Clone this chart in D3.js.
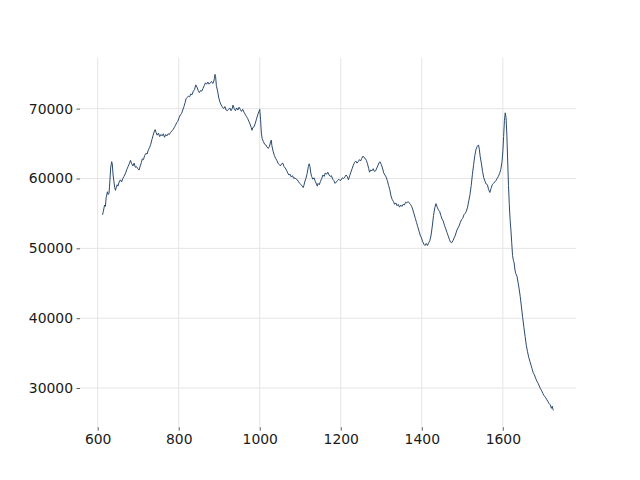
<!DOCTYPE html>
<html>
<head>
<meta charset="utf-8">
<script src="https://cdn.jsdelivr.net/npm/d3@7"></script>
<style>
  html, body { margin: 0; padding: 0; background: #ffffff; }
  svg { display: block; }
  text { font-family: "DejaVu Sans", sans-serif; }
</style>
</head>
<body>
<svg id="chart" width="640" height="480"></svg>
<script>
const wavenumbers = [612,614,617,619,621,624,626,628,630,632,634.5,636,638,640,642,644,646,648,650,653,656,659,662,665,669,672,675,678,681,684,687,690,693,696,699,702,705,708,710,713,716,719,722,725,728,731,734,737,740,742,744,747,750,753,756,759,762,765,768,771,774,777,780,783,786,789,792,795,798,801,804,807,810,813,816,818,821,824,827,830,833,836,839,842,845,848,851,854,857,860,863,866,869,872,875,878,881,884,886,888,889.5,891,893,896,899,902,905,908,911,914,917,920,923,926,929,932,934,937,940,943,946,949,952,955,958,961,964,967,970,973,976,979,981,983,986,989,992,995,998,1000,1002,1004,1006,1009,1012,1015,1018,1021,1024,1027,1028.5,1030,1033,1036,1039,1042,1045,1048,1051,1054,1057,1060,1063,1066,1069,1072,1075,1078,1081,1084,1087,1090,1093,1096,1099,1102,1105,1107,1109,1111,1114,1117,1120,1122,1124,1126,1128,1131,1134,1137,1140,1142,1144,1147,1150,1153,1156,1159,1162,1165,1168,1171,1174,1177,1180,1183,1186,1189,1192,1195,1198,1201,1204,1207,1210,1213,1216,1219,1222,1225,1228,1231,1234,1237,1240,1243,1246,1249,1252,1255,1257,1260,1263,1266,1269,1271,1274,1277,1280,1283,1286,1289,1292,1295,1297,1300,1303,1306,1309,1312,1315,1318,1321,1324,1327,1330,1333,1336,1339,1342,1345,1348,1351,1354,1357,1360,1363,1366,1369,1372,1375,1378,1381,1384,1387,1390,1393,1396,1399,1402,1405,1408,1411,1414,1417,1420,1423,1426,1429,1432,1435,1438,1441,1444,1447,1450,1453,1456,1459,1462,1465,1468,1471,1474,1477,1480,1483,1486,1489,1492,1495,1498,1501,1504,1507,1510,1513,1516,1519,1522,1525,1528,1531,1534,1537,1540,1542,1544,1547,1550,1553,1556,1559,1562,1565,1568,1571,1574,1577,1580,1583,1586,1589,1592,1595,1598,1600,1602,1604,1606,1608,1610,1612,1614,1616,1618,1620,1622,1624,1626,1628,1630,1632,1635,1638,1640,1643,1646,1649,1652,1655,1658,1661,1664,1667,1670,1672,1675,1678,1681,1684,1687,1690,1693,1696,1699,1702,1705,1708,1711,1714,1717,1720,1722,1724,1725];

const intensities = [54800,55300,56200,56000,57300,58100,57700,57900,59500,61500,62400,62100,60500,59600,58700,58300,58800,59100,58900,59500,59800,59500,60000,60300,60800,61300,61700,62100,62600,62100,61800,62200,61600,61700,61400,61200,61800,62300,62800,62700,63300,63600,63500,64100,64400,64900,65600,66200,66800,67000,66600,66200,66500,66000,66300,66100,66400,65900,66300,66100,66400,66300,66600,66800,67000,67300,67600,68000,68200,68700,69100,69300,69800,70300,70900,71400,71600,71800,71700,72100,72000,72500,72700,73400,73100,72600,72300,72600,72500,72900,73300,73700,73500,73800,73500,73700,73900,73600,73800,74300,74900,74600,73300,72500,71500,70900,70500,70200,70000,70300,69800,69700,69900,70100,69700,70000,70500,70000,69700,70100,69800,70200,69900,69600,69900,69500,69200,68900,68600,68200,67800,67300,66900,67300,67400,67900,68500,69100,69600,69900,68500,66500,65700,65300,64900,64800,64500,64300,64600,65300,65500,64700,63900,63300,62900,62600,62200,62000,61800,62100,62200,61700,61500,61200,60800,60500,60600,60200,60400,60000,60100,59900,59800,59500,59300,59100,58900,58700,59000,59500,60000,60700,61700,62100,61700,60800,60300,59900,60100,59600,59200,58900,59300,59100,59600,60000,60500,60300,60800,60600,60900,60500,60300,60400,59900,59700,59300,59500,59700,59900,59700,59800,60100,60000,60200,60500,60300,59800,60400,60900,61400,61900,62300,62500,62200,62400,62700,62500,62900,63200,63000,62900,62600,62100,61400,60900,61200,61100,61400,61000,61100,61500,61900,62300,62400,62000,61500,60800,60500,60200,59700,59000,58400,57500,57000,56700,56300,56500,56100,56300,55900,56200,56000,56300,56200,56600,56500,56700,56500,56300,56000,55500,54900,54300,53700,53100,52500,51900,51500,51000,50600,50400,50700,50400,50800,51100,51900,53200,54700,55800,56400,55900,55500,55300,54700,54200,53900,53300,52800,52300,51800,51300,50900,50800,51100,51500,51900,52500,52900,53200,53700,54100,54300,54800,55000,55300,55900,56800,57700,59000,60600,62000,63300,64200,64600,64800,64200,63200,62200,61000,60100,59600,59200,59100,58400,58000,58600,59100,59300,59500,59700,60000,60300,60700,61300,62400,63800,66000,68300,69400,68700,66200,62500,59000,56300,54100,52600,50800,49000,48300,47900,46900,46400,46000,45000,44300,43100,41600,40100,38700,37400,36100,35200,34400,33800,33200,32800,32200,31900,31400,31000,30700,30300,29900,29600,29200,28900,28700,28400,28100,27800,27600,27100,27400,26900,26800];

const xTickValues = [600, 800, 1000, 1200, 1400, 1600];
const yTickValues = [30000, 40000, 50000, 60000, 70000];

const W = 640, H = 480;
const margin = { left: 80, right: 64, top: 57.6, bottom: 52.8 };
const innerW = W - margin.left - margin.right;
const innerH = H - margin.top - margin.bottom;

const data = wavenumbers.map((w, i) => ({ x: w, y: intensities[i] }));

const xExt = d3.extent(wavenumbers);
const yExt = d3.extent(intensities);
const xPad = (xExt[1] - xExt[0]) * 0.05;
const yPad = (yExt[1] - yExt[0]) * 0.05;

const x = d3.scaleLinear().domain([xExt[0] - xPad, xExt[1] + xPad]).range([0, innerW]);
const y = d3.scaleLinear().domain([yExt[0] - yPad, yExt[1] + yPad]).range([innerH, 0]);

const svg = d3.select("#chart");
const g = svg.append("g").attr("transform", `translate(${margin.left},${margin.top})`);

// grid
g.append("g").selectAll("line").data(xTickValues).join("line")
  .attr("x1", d => x(d)).attr("x2", d => x(d))
  .attr("y1", 0).attr("y2", innerH)
  .attr("stroke", "#e5e5e5").attr("stroke-width", 1);
g.append("g").selectAll("line").data(yTickValues).join("line")
  .attr("y1", d => y(d)).attr("y2", d => y(d))
  .attr("x1", 0).attr("x2", innerW)
  .attr("stroke", "#e5e5e5").attr("stroke-width", 1);

// axes
const xAxis = d3.axisBottom(x).tickValues(xTickValues).tickFormat(d3.format("d"))
  .tickSize(3.5).tickPadding(3.5);
const yAxis = d3.axisLeft(y).tickValues(yTickValues).tickFormat(d3.format("d"))
  .tickSize(3.5).tickPadding(3.5);

const gx = g.append("g").attr("transform", `translate(0,${innerH})`).call(xAxis);
const gy = g.append("g").call(yAxis);
[gx, gy].forEach(a => {
  a.select(".domain").remove();
  a.selectAll(".tick line").attr("stroke", "#333333").attr("stroke-width", 0.8);
  a.selectAll(".tick text").attr("fill", "#1a1a1a")
    .style("font-family", "'DejaVu Sans', sans-serif").style("font-size", "13.9px");
});

// line
const line = d3.line().x(d => x(d.x)).y(d => y(d.y));
g.append("path").datum(data)
  .attr("fill", "none")
  .attr("stroke", "#2c4a6e")
  .attr("stroke-width", 1)
  .attr("stroke-linejoin", "round")
  .attr("d", line);
</script>
</body>
</html>
